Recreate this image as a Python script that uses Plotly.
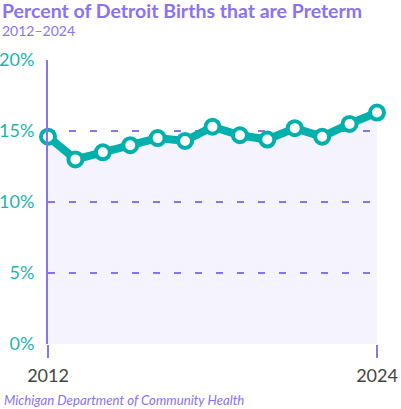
import plotly.graph_objects as go

years = list(range(2012, 2025))
preterm_pct = [14.6, 13.0, 13.5, 14.0, 14.5, 14.3, 15.3, 14.7, 14.4, 15.2, 14.6, 15.5, 16.3]
y_ticks = [0, 5, 10, 15, 20]
y_tick_labels = ["0%", "5%", "10%", "15%", "20%"]
x_ticks = [2012, 2024]

purple = "#8B72EE"
teal = "#00B0AC"

fig = go.Figure()

# shaded area under the line
fig.add_trace(go.Scatter(
    x=years, y=preterm_pct, mode="lines", fill="tozeroy",
    fillcolor="rgba(140,120,235,0.09)", line=dict(width=0),
    hoverinfo="skip", showlegend=False,
))

fig.add_trace(go.Scatter(
    x=years, y=preterm_pct, mode="lines+markers",
    line=dict(color=teal, width=8),
    marker=dict(size=14, color="white", line=dict(color=teal, width=4)),
    cliponaxis=False, showlegend=False,
    hovertemplate="%{x}: %{y}%<extra></extra>",
))

fig.update_layout(
    width=401, height=409,
    margin=dict(l=48, r=24, t=60, b=65, autoexpand=False),
    plot_bgcolor="white", paper_bgcolor="white",
    font=dict(family="Lato", color="#444444"),
    title=dict(
        text="<b>Percent of Detroit Births that are Preterm</b>",
        font=dict(family="Lato", size=19.5, color=purple),
        xref="container", yref="container", x=0.005, y=0.99,
        xanchor="left", yanchor="top",
    ),
    annotations=[
        dict(text="2012\u20132024", xref="paper", yref="paper",
             x=-0.145, y=1.104, xanchor="left", yanchor="middle",
             showarrow=False, font=dict(size=14, color=purple)),
        dict(text="<i>Michigan Department of Community Health</i>",
             xref="paper", yref="paper", x=-0.14, y=-0.197,
             xanchor="left", yanchor="middle", showarrow=False,
             font=dict(size=13.2, color=purple)),
    ],
)

fig.update_xaxes(
    range=[2012, 2024], tickvals=x_ticks, ticktext=[str(v) for v in x_ticks],
    ticks="outside", ticklen=13, tickwidth=2, tickcolor=purple,
    showgrid=False, zeroline=False, showline=False, automargin=False,
    tickfont=dict(size=18, color="#444444"), ticklabelstandoff=2,
)
fig.update_yaxes(
    range=[0, 20], tickvals=y_ticks, ticktext=y_tick_labels,
    showgrid=True, gridcolor=purple, gridwidth=1.5, griddash="7px,14px",
    zeroline=False, showline=True, linecolor=purple, linewidth=2,
    layer="above traces", automargin=False,
    tickfont=dict(size=18, color="#1DB3AE"), ticklabelstandoff=8,
)

fig.write_html("out.html", config={"displayModeBar": False},
               post_script="document.body.style.margin='0';")
